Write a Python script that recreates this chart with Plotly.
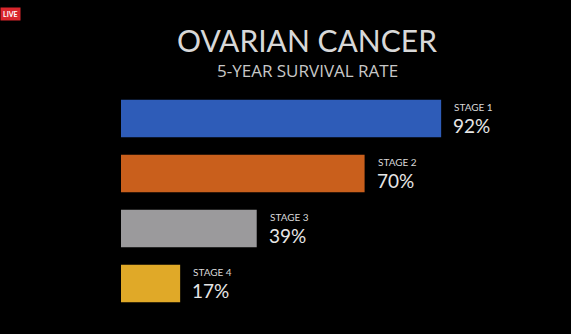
import plotly.graph_objects as go

stages = ["STAGE 1", "STAGE 2", "STAGE 3", "STAGE 4"]
survival = [92, 70, 39, 17]
colors = ["#2e5cb8", "#c95f1c", "#9b9a9c", "#e0a928"]
title = "OVARIAN CANCER"
subtitle = "5-YEAR SURVIVAL RATE"

W, H = 571, 334
FONT = "Lato"
TXT = "#d8d8d8"

fig = go.Figure()
fig.add_trace(go.Bar(
    x=survival, y=stages, orientation="h",
    marker=dict(color=colors, line=dict(width=0)),
    width=0.68, hoverinfo="skip",
))

ann = []
for s, v in zip(stages, survival):
    ann.append(dict(x=v, y=s, xref="x", yref="y", text=s, showarrow=False,
                    xanchor="left", yanchor="middle", xshift=11, yshift=12,
                    font=dict(family=FONT, size=10, color=TXT)))
    ann.append(dict(x=v, y=s, xref="x", yref="y", text=f"{v}%", showarrow=False,
                    xanchor="left", yanchor="middle", xshift=10, yshift=-7,
                    font=dict(family=FONT, size=19, color="#e6e6e6")))

ann.append(dict(x=307 / W, y=1 - 40 / H, xref="paper", yref="paper", text=title,
                showarrow=False, xanchor="center", yanchor="middle",
                font=dict(family=FONT, size=30, color=TXT)))
ann.append(dict(x=307 / W, y=1 - 71 / H, xref="paper", yref="paper", text=subtitle,
                showarrow=False, xanchor="center", yanchor="middle",
                font=dict(family="Open Sans", size=17, color="#c8c8c8")))
ann.append(dict(x=0, y=1 - 7 / H, xref="paper", yref="paper", text="<b>LIVE</b>",
                showarrow=False, xanchor="left", yanchor="top",
                bgcolor="#d9262c", borderpad=2,
                font=dict(family=FONT, size=7, color="white")))

fig.update_layout(
    width=W, height=H,
    margin=dict(l=0, r=0, t=0, b=0),
    paper_bgcolor="black", plot_bgcolor="black",
    showlegend=False,
    annotations=ann,
    xaxis=dict(domain=[121 / W, 469 / W], range=[0, 100], visible=False, fixedrange=True),
    yaxis=dict(domain=[1 - 311 / H, 1 - 91 / H], categoryorder="array",
               categoryarray=stages, autorange="reversed", visible=False, fixedrange=True),
    bargap=0.32,
)

fig.write_html("out.html")
